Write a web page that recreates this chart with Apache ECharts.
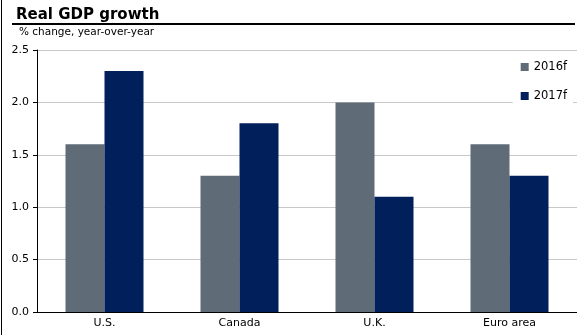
<!DOCTYPE html>
<html><head><meta charset="utf-8">
<script src="https://cdn.jsdelivr.net/npm/echarts@6/dist/echarts.min.js"></script>
<style>html,body{margin:0;padding:0;background:#fff}#c{width:577px;height:335px}</style>
</head><body><div id="c"></div>
<script>
const categories = ['U.S.', 'Canada', 'U.K.', 'Euro area'];
const s2016 = [1.6, 1.3, 2.0, 1.6];
const s2017 = [2.3, 1.8, 1.1, 1.3];
const yTicks = [0, 0.5, 1.0, 1.5, 2.0, 2.5];
const F = 'DejaVu Sans';
const chart = echarts.init(document.getElementById('c'));
chart.setOption({
  animation: false,
  textStyle: {fontFamily: F},
  title: [
    {text: 'Real GDP growth', left: 11, top: 3, textStyle: {fontFamily: F, fontSize: 15, fontWeight: 'bold', color: '#000'}},
    {text: '% change, year-over-year', left: 14, top: 22, textStyle: {fontFamily: F, fontSize: 10.5, fontWeight: 'normal', color: '#000'}}
  ],
  graphic: [
    {type: 'line', shape: {x1: 1.5, y1: 0, x2: 1.5, y2: 335}, style: {stroke: '#000', lineWidth: 1}},
    {type: 'line', shape: {x1: 12, y1: 24, x2: 575, y2: 24}, style: {stroke: '#000', lineWidth: 2}}
  ],
  legend: {
    orient: 'vertical', right: 4, top: 55, itemWidth: 8, itemHeight: 8, itemGap: 17, itemTextGap: 6,
    backgroundColor: '#fff', padding: [6, 6, 6, 8],
    textStyle: {fontFamily: F, fontSize: 11.5, color: '#000'},
    icon: 'rect'
  },
  grid: {left: 37, top: 50, width: 544, height: 262},
  xAxis: {
    type: 'category', data: categories,
    axisLine: {lineStyle: {color: '#000'}}, axisTick: {show: false},
    axisLabel: {color: '#000', fontSize: 11, margin: 6}
  },
  yAxis: {
    type: 'value', min: 0, max: 2.5, interval: 0.5,
    axisLine: {show: true, lineStyle: {color: '#000'}},
    axisTick: {show: true, length: 4, lineStyle: {color: '#000'}},
    splitLine: {lineStyle: {color: '#c8c8c8'}},
    axisLabel: {color: '#000', fontSize: 11, margin: 8, formatter: v => v.toFixed(1)}
  },
  series: [
    {name: '2016f', type: 'bar', data: s2016, barWidth: 39, barGap: '0%', itemStyle: {color: '#5f6b76'}},
    {name: '2017f', type: 'bar', data: s2017, barWidth: 39, itemStyle: {color: '#001f5b'}}
  ]
});
</script></body></html>
